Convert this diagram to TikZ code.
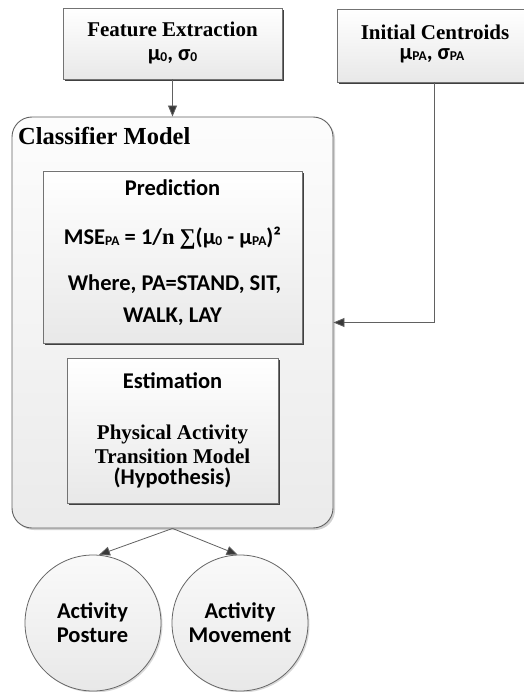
\documentclass[tikz,border=0pt]{standalone}
\usepackage{fontspec}
\setmainfont{Liberation Serif}
\newfontfamily\calib{Carlito}
\usetikzlibrary{arrows.meta,shadows}

% small index letters set on the baseline
\newcommand\lo[1]{{\fontsize{13.5}{13.5}\selectfont\raisebox{-1pt}{#1}}}

\tikzset{
  serifhead/.style={font=\bfseries\fontsize{21}{21}\selectfont, anchor=base, inner sep=0pt},
  sanstext/.style={font=\calib\bfseries\fontsize{22.5}{22.5}\selectfont, anchor=base, inner sep=0pt},
  card/.style={draw=black!55, line width=0.8pt, top color=white, bottom color=black!9,
    inner sep=0pt,
    drop shadow={shadow xshift=2pt, shadow yshift=-2pt, fill=black!75, opacity=1}},
  panel/.style={draw=black!62, line width=0.9pt, rounded corners=20pt,
    top color=black!1, bottom color=black!8, inner sep=0pt,
    drop shadow={shadow xshift=2pt, shadow yshift=-2pt, fill=black!30, opacity=0.6}},
  disc/.style={circle, draw=black!60, line width=0.8pt, top color=black!2, bottom color=black!9,
    inner sep=0pt, minimum size=136pt,
    drop shadow={shadow xshift=1.5pt, shadow yshift=-1.5pt, fill=black!25, opacity=0.6}},
  link/.style={draw=black!62, line width=0.8pt,
    -{Triangle[length=11pt, width=9pt, fill=black!78]}},
}

\begin{document}
\begin{tikzpicture}[x=1pt, y=-1pt]
\useasboundingbox (0,0) rectangle (523,692);

% top inputs
\node[card, minimum width=219pt, minimum height=71pt] (fe) at (172.5,43.5) {};
\node[serifhead] (feA) at (172.5,37) {Feature Extraction};
\node[sanstext] (feB) at (172.5,61) {μ\lo{0}, σ\lo{0}};

\node[card, minimum width=194pt, minimum height=73pt] (ic) at (434,45.5) {};
\node[serifhead] (icA) at (435,40) {Initial Centroids};
\node[sanstext] (icB) at (432,60) {μ\lo{PA}, σ\lo{PA}};

% classifier container
\node[panel, minimum width=321pt, minimum height=411pt] (cls) at (172.5,322.5) {};
\node[font=\bfseries\fontsize{24.5}{24.5}\selectfont, anchor=base west, inner sep=0pt]
  (clsT) at (18,145) {Classifier Model};

% prediction block
\node[card, minimum width=259pt, minimum height=172pt] (pred) at (172.5,257) {};
\node[sanstext] (predA) at (172.5,196) {Prediction};
\node[sanstext] (predB) at (172.5,245)
  {MSE\lo{PA} = 1/{\rmfamily n} {\rmfamily ∑}(μ\lo{0} - μ\lo{PA})²};
\node[sanstext] (predC) at (174.5,290) {Where, PA=STAND, SIT,};
\node[sanstext] (predD) at (172.5,322) {WALK, LAY};

% estimation block
\node[card, minimum width=211pt, minimum height=145pt] (est) at (172.5,430.5) {};
\node[sanstext] (estA) at (172.5,388) {Estimation};
\node[serifhead] (estB) at (172.5,439) {Physical Activity};
\node[serifhead] (estC) at (172.5,463) {Transition Model};
\node[sanstext] (estD) at (172.5,484) {(Hypothesis)};

% outputs
\node[disc] (ap) at (93,623) {};
\node[sanstext] (apA) at (92.5,618) {Activity};
\node[sanstext] (apB) at (92.5,642) {Posture};

\node[disc] (am) at (240,623) {};
\node[sanstext] (amA) at (240,618) {Activity};
\node[sanstext] (amB) at (240,642) {Movement};

% connectors
\draw[link] (fe.south) -- (cls.north);
\draw[link] (ic.south) |- (cls.east);
\draw[link] (cls.south) -- (ap.85);
\draw[link] (cls.south) -- (am.92);
\end{tikzpicture}
\end{document}
